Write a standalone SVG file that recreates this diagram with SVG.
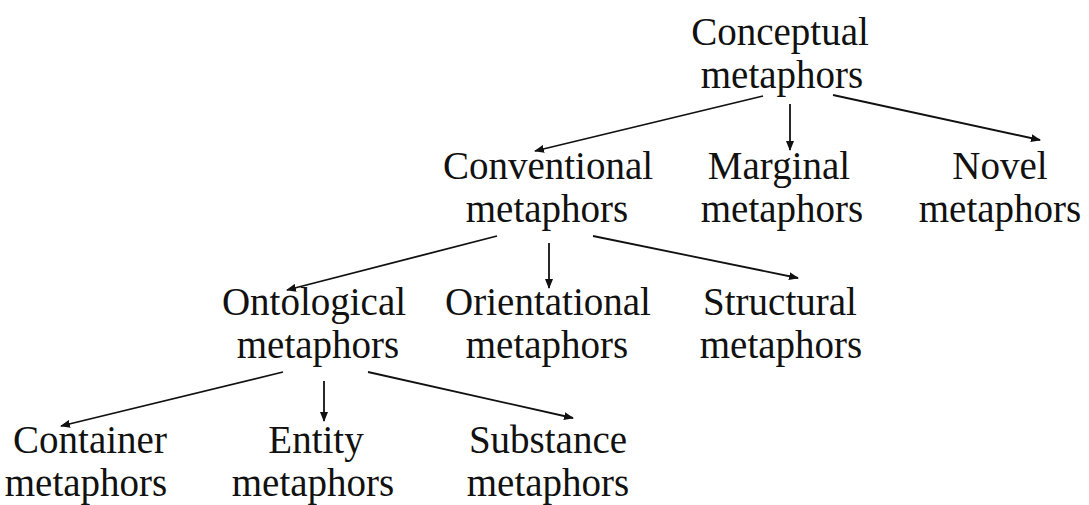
<svg xmlns="http://www.w3.org/2000/svg" width="1089" height="505" viewBox="0 0 1089 505">
<defs>
<marker id="ah" markerWidth="10" markerHeight="8" refX="9" refY="4" orient="auto" markerUnits="userSpaceOnUse">
<path d="M0,0 L10,4 L0,8 Z" fill="#111"/>
</marker>
</defs>
<rect width="1089" height="505" fill="#fff"/>
<g id="connectors" stroke="#111" stroke-width="1.8" marker-end="url(#ah)">
<line x1="763" y1="96" x2="535" y2="151"/>
<line x1="790" y1="104" x2="790" y2="150"/>
<line x1="833" y1="95" x2="1040" y2="140"/>
<line x1="497" y1="236" x2="287" y2="290"/>
<line x1="549" y1="243" x2="549" y2="288"/>
<line x1="593" y1="236" x2="798" y2="278"/>
<line x1="283" y1="372" x2="61" y2="426"/>
<line x1="324" y1="381" x2="324" y2="421"/>
<line x1="368" y1="372" x2="573" y2="418"/>
</g>
<g id="conceptual"><text x="780" y="45" font-family="Liberation Serif" font-size="39" text-anchor="middle" fill="#111">Conceptual</text><text x="782" y="88" font-family="Liberation Serif" font-size="39" text-anchor="middle" fill="#111">metaphors</text></g>
<g id="conventional"><text x="548" y="179" font-family="Liberation Serif" font-size="39" text-anchor="middle" fill="#111">Conventional</text><text x="547" y="222" font-family="Liberation Serif" font-size="39" text-anchor="middle" fill="#111">metaphors</text></g>
<g id="marginal"><text x="779" y="179" font-family="Liberation Serif" font-size="39" text-anchor="middle" fill="#111">Marginal</text><text x="782" y="222" font-family="Liberation Serif" font-size="39" text-anchor="middle" fill="#111">metaphors</text></g>
<g id="novel"><text x="1000" y="179" font-family="Liberation Serif" font-size="39" text-anchor="middle" fill="#111">Novel</text><text x="1000" y="222" font-family="Liberation Serif" font-size="39" text-anchor="middle" fill="#111">metaphors</text></g>
<g id="ontological"><text x="314" y="315" font-family="Liberation Serif" font-size="39" text-anchor="middle" fill="#111">Ontological</text><text x="318" y="358" font-family="Liberation Serif" font-size="39" text-anchor="middle" fill="#111">metaphors</text></g>
<g id="orientational"><text x="548" y="315" font-family="Liberation Serif" font-size="39" text-anchor="middle" fill="#111">Orientational</text><text x="547" y="358" font-family="Liberation Serif" font-size="39" text-anchor="middle" fill="#111">metaphors</text></g>
<g id="structural"><text x="780" y="315" font-family="Liberation Serif" font-size="39" text-anchor="middle" fill="#111">Structural</text><text x="781" y="358" font-family="Liberation Serif" font-size="39" text-anchor="middle" fill="#111">metaphors</text></g>
<g id="container"><text x="90" y="453" font-family="Liberation Serif" font-size="39" text-anchor="middle" fill="#111">Container</text><text x="86" y="496" font-family="Liberation Serif" font-size="39" text-anchor="middle" fill="#111">metaphors</text></g>
<g id="entity"><text x="316" y="453" font-family="Liberation Serif" font-size="39" text-anchor="middle" fill="#111">Entity</text><text x="313" y="496" font-family="Liberation Serif" font-size="39" text-anchor="middle" fill="#111">metaphors</text></g>
<g id="substance"><text x="548" y="453" font-family="Liberation Serif" font-size="39" text-anchor="middle" fill="#111">Substance</text><text x="548" y="496" font-family="Liberation Serif" font-size="39" text-anchor="middle" fill="#111">metaphors</text></g>
</svg>
